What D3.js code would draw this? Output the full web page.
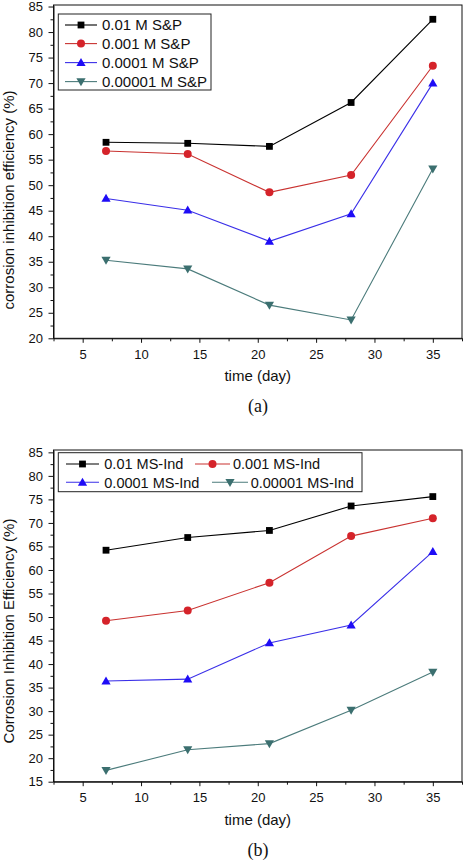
<!DOCTYPE html>
<html>
<head>
<meta charset="utf-8">
<script src="https://cdn.jsdelivr.net/npm/d3@7/dist/d3.min.js"></script>
<style>
  html, body { margin: 0; padding: 0; background: #fff; }
  svg { display: block; }
  text { font-family: "Liberation Sans", Arial, sans-serif; fill: #111; }
</style>
</head>
<body>
<script>
// ---------------- DATA ----------------
const days = [7, 14, 21, 28, 35];
const xTicks = [5, 10, 15, 20, 25, 30, 35];
const xMinorTicks = [2.5, 7.5, 12.5, 17.5, 22.5, 27.5, 32.5, 37.5];

const yTicksA = [20, 25, 30, 35, 40, 45, 50, 55, 60, 65, 70, 75, 80, 85];
const yMinorA = [22.5, 27.5, 32.5, 37.5, 42.5, 47.5, 52.5, 57.5, 62.5, 67.5, 72.5, 77.5, 82.5];
const yTicksB = [15, 20, 25, 30, 35, 40, 45, 50, 55, 60, 65, 70, 75, 80, 85];
const yMinorB = [17.5, 22.5, 27.5, 32.5, 37.5, 42.5, 47.5, 52.5, 57.5, 62.5, 67.5, 72.5, 77.5, 82.5];

const namesA = ["0.01 M S&P", "0.001 M S&P", "0.0001 M S&P", "0.00001 M S&P"];
const sp001   = [58.4, 58.2, 57.6, 66.2, 82.5];
const sp0001  = [56.7, 56.1, 48.6, 52.0, 73.4];
const sp00001 = [47.4, 45.1, 39.0, 44.4, 70.0];
const sp000001 = [35.3, 33.6, 26.5, 23.6, 53.2];

const namesB = ["0.01 MS-Ind", "0.001 MS-Ind", "0.0001 MS-Ind", "0.00001 MS-Ind"];
const ind001   = [64.2, 66.9, 68.4, 73.6, 75.6];
const ind0001  = [49.2, 51.4, 57.3, 67.2, 71.0];
const ind00001 = [36.4, 36.8, 44.5, 48.3, 63.9];
const ind000001 = [17.4, 21.8, 23.1, 30.2, 38.3];

const xLabel = "time (day)";
const yLabelA = "corrosion inhibition efficiency (%)";
const yLabelB = "Corrosion Inhibition Efficiency (%)";

// ---------------- STYLE ----------------
const styles = [
  { shape: "square",  fill: "#000000", line: "#000000" },
  { shape: "circle",  fill: "#d5232a", line: "#c93230" },
  { shape: "up",      fill: "#1e0cf6", line: "#3a2fe8" },
  { shape: "down",    fill: "#3b6f6f", line: "#4b7b7b" }
];

const W = 463, H = 861;
const svg = d3.select("body").append("svg").attr("width", W).attr("height", H);

function marker(g, shape, cx, cy, fill) {
  if (shape === "square") {
    g.append("rect").attr("x", cx - 3.4).attr("y", cy - 3.4)
      .attr("width", 6.8).attr("height", 6.8).attr("fill", fill);
  } else if (shape === "circle") {
    g.append("circle").attr("cx", cx).attr("cy", cy).attr("r", 4).attr("fill", fill);
  } else if (shape === "up") {
    g.append("path").attr("d", `M${cx},${cy - 4.6}L${cx + 4.6},${cy + 3.4}L${cx - 4.6},${cy + 3.4}Z`).attr("fill", fill);
  } else {
    g.append("path").attr("d", `M${cx - 4.6},${cy - 3.4}L${cx + 4.6},${cy - 3.4}L${cx},${cy + 4.6}Z`).attr("fill", fill);
  }
}

function panel(cfg) {
  const x = d3.scaleLinear().domain([2.5, 37.5]).range([53.5, 462]);
  const y = d3.scaleLinear().domain(cfg.yDomain).range([cfg.bottom, cfg.top]);
  const g = svg.append("g");

  // frame
  g.append("rect").attr("x", x.range()[0]).attr("y", cfg.top)
    .attr("width", x.range()[1] - x.range()[0]).attr("height", cfg.bottom - cfg.top)
    .attr("fill", "none").attr("stroke", "#111").attr("stroke-width", 1);

  // y axis
  const ya = g.append("g").attr("transform", `translate(${x.range()[0]},0)`)
    .call(d3.axisLeft(y).tickValues(cfg.yTicks).tickSize(5).tickSizeOuter(0).tickPadding(5.5).tickFormat(d3.format("d")));
  ya.select(".domain").attr("stroke", "#111");
  ya.selectAll(".tick line").attr("stroke", "#111");
  ya.selectAll("text").style("font-size", "13px").style("font-family", "Liberation Sans, Arial, sans-serif").attr("fill", "#111");
  const yam = g.append("g").attr("transform", `translate(${x.range()[0]},0)`)
    .call(d3.axisLeft(y).tickValues(cfg.yMinor).tickSize(3).tickSizeOuter(0).tickFormat(""));
  yam.select(".domain").remove();
  yam.selectAll(".tick line").attr("stroke", "#111");

  // x axis
  const xa = g.append("g").attr("transform", `translate(0,${cfg.bottom})`)
    .call(d3.axisBottom(x).tickValues(xTicks).tickSize(4.5).tickSizeOuter(0).tickPadding(7).tickFormat(d3.format("d")));
  xa.select(".domain").attr("stroke", "#111");
  xa.selectAll(".tick line").attr("stroke", "#111");
  xa.selectAll("text").style("font-size", "13px").style("font-family", "Liberation Sans, Arial, sans-serif").attr("fill", "#111");
  const xam = g.append("g").attr("transform", `translate(0,${cfg.bottom})`)
    .call(d3.axisBottom(x).tickValues(xMinorTicks).tickSize(3).tickSizeOuter(0).tickFormat(""));
  xam.select(".domain").remove();
  xam.selectAll(".tick line").attr("stroke", "#111");

  // labels
  g.append("text").attr("x", x(20)).attr("y", cfg.bottom + 43)
    .attr("text-anchor", "middle").style("font-size", "15px").text(xLabel);
  g.append("text").attr("transform", `translate(13.5,${cfg.yLabelY}) rotate(-90)`)
    .attr("text-anchor", "middle").style("font-size", "15px").text(cfg.yLabel);
  g.append("text").attr("x", 258).attr("y", cfg.bottom + 74)
    .attr("text-anchor", "middle")
    .style("font-family", "Liberation Serif, Times New Roman, serif").style("font-size", "18px")
    .text(cfg.tag);

  // series
  const line = d3.line().x((d, i) => x(days[i])).y(d => y(d));
  cfg.series.forEach((s, k) => {
    const st = styles[k];
    g.append("path").datum(s).attr("d", line)
      .attr("fill", "none").attr("stroke", st.line).attr("stroke-width", 1.1);
    const mg = g.append("g");
    s.forEach((v, i) => marker(mg, st.shape, x(days[i]), y(v), st.fill));
  });

  // legend
  const L = cfg.legend;
  g.append("rect").attr("x", L.box[0]).attr("y", L.box[1])
    .attr("width", L.box[2] - L.box[0]).attr("height", L.box[3] - L.box[1])
    .attr("fill", "#fff").attr("stroke", "#222").attr("stroke-width", 1);
  L.items.forEach((it, k) => {
    const st = styles[k];
    g.append("line").attr("x1", it[0]).attr("x2", it[0] + it[3]).attr("y1", it[1]).attr("y2", it[1])
      .attr("stroke", st.line).attr("stroke-width", 1.1);
    marker(g, st.shape, it[0] + it[3] / 2, it[1], st.fill);
    g.append("text").attr("x", it[2]).attr("y", it[1] + 5.3)
      .style("font-size", L.font).text(cfg.names[k]);
  });
}

panel({
  top: 5, bottom: 338.3, yDomain: [20, 85.3],
  yTicks: yTicksA, yMinor: yMinorA,
  yLabel: yLabelA, yLabelY: 200, tag: "(a)",
  series: [sp001, sp0001, sp00001, sp000001], names: namesA,
  legend: {
    box: [58.3, 14, 211, 90], font: "15px",
    items: [[65, 25, 102, 32], [65, 43.6, 102, 32], [65, 62.6, 102, 32], [65, 81.6, 102, 32]]
  }
});

panel({
  top: 450, bottom: 781.7, yDomain: [15, 85.5],
  yTicks: yTicksB, yMinor: yMinorB,
  yLabel: yLabelB, yLabelY: 631, tag: "(b)",
  series: [ind001, ind0001, ind00001, ind000001], names: namesB,
  legend: {
    box: [58.3, 452.7, 362, 491.7], font: "14.5px",
    items: [[66, 464, 104.3, 33], [195, 464, 233, 35], [66, 482.3, 104.3, 33], [212, 482.3, 250.7, 36]]
  }
});
</script>
</body>
</html>
